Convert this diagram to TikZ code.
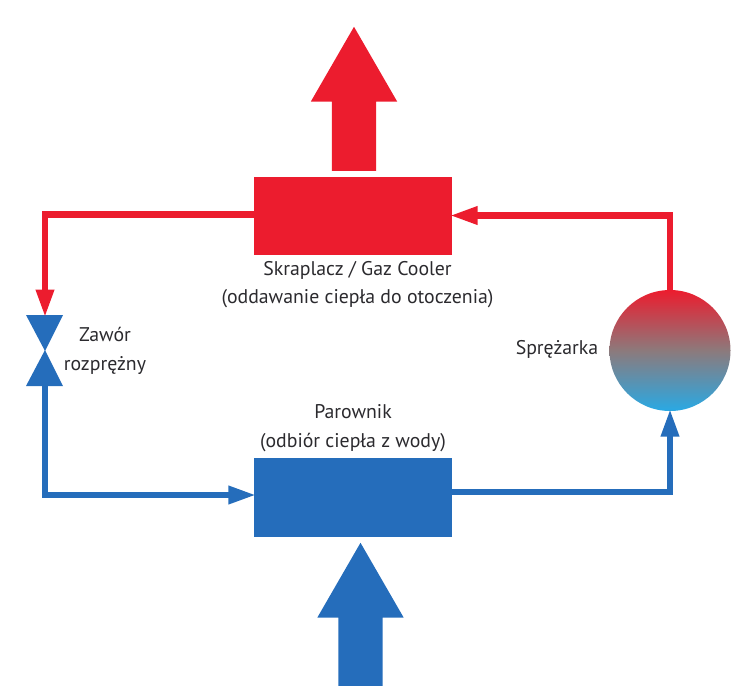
\documentclass[tikz,border=0pt]{standalone}
\usepackage{fontspec}
\setmainfont{PT Sans}
\usepackage{tikz}
\usetikzlibrary{arrows.meta,shapes.arrows}
\definecolor{hotred}{HTML}{EC1C2E}
\definecolor{coldblue}{HTML}{256DBB}
\definecolor{midgrey}{HTML}{8C7A7C}
\definecolor{lightblue}{HTML}{29A9E4}
\definecolor{labelink}{HTML}{2B2A2E}
\tikzset{
  exchanger/.style={minimum width=198pt, minimum height=78pt, inner sep=0pt},
  bigarrow/.style={single arrow, shape border rotate=90, inner sep=0pt, text width=44pt, minimum width=86pt, single arrow head extend=21pt, single arrow tip angle=60},
  pipe/.style={line width=6.5pt, shorten >=-2.5pt, -{Triangle[length=28pt, width=17pt]}},
  caption/.style={text=labelink, font=\fontsize{19.8}{28.5}\selectfont, align=center, inner sep=0pt}
}

\begin{document}
\begin{tikzpicture}[x=1pt, y=-1pt]
  \useasboundingbox (0,0) rectangle (733,697);

  % exchangers and big arrows
  \node[exchanger, fill=hotred] (condenser) at (353,215.5) {};
  \node[exchanger, fill=coldblue, minimum height=79pt] (evaporator) at (353,497.5) {};
  \node[bigarrow, fill=hotred, minimum height=144pt] (heatout) at (354,118) {};
  \node[bigarrow, fill=coldblue, minimum height=143pt] (heatin) at (360.5,633.5) {};

  % compressor
  \node[circle, minimum size=121pt, inner sep=0pt, top color=hotred, bottom color=lightblue, middle color=midgrey] (compressor) at (670,350.5) {};

  % expansion valve
  \coordinate (valvetop) at (45,315);
  \coordinate (valvebottom) at (45,386);
  \fill[coldblue] (26,315) -- (63,315) -- (45,351) -- cycle;
  \fill[coldblue] (26,386) -- (63,386) -- (45,350) -- cycle;

  % pipes
  \draw[pipe, hotred] ([yshift=1pt]condenser.west) -| (valvetop);
  \draw[pipe, coldblue] (valvebottom) |- ([yshift=2.5pt]evaporator.west);
  \draw[pipe, coldblue] ([yshift=5.5pt]evaporator.east) -| (compressor.south);
  \draw[pipe, hotred] ([yshift=-1pt]compressor.north) |- (condenser.east);

  % labels
  \node[caption] (condenserlabel) at (357.5,284.5) {Skraplacz / Gaz Cooler\\(oddawanie ciepła do otoczenia)};
  \node[caption] (evaporatorlabel) at (353,428) {Parownik\\(odbiór ciepła z wody)};
  \node[caption] (valvelabel) at (105,351) {Zawór\\rozprężny};
  \node[caption] (compressorlabel) at (557,349) {Sprężarka};
\end{tikzpicture}
\end{document}
